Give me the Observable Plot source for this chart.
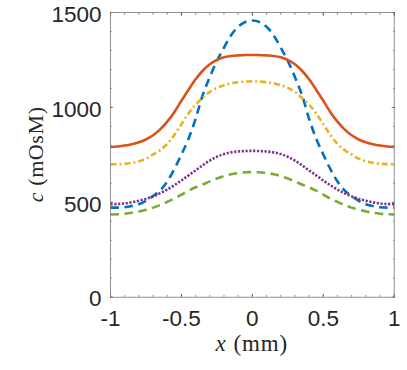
<!DOCTYPE html>
<html>
<head>
<meta charset="utf-8">
<script src="https://cdn.jsdelivr.net/npm/d3@7"></script>
<script src="https://cdn.jsdelivr.net/npm/@observablehq/plot@0.6"></script>
<style>
  html, body { margin: 0; padding: 0; background: #fff; }
  #chart { width: 407px; height: 370px; }
</style>
</head>
<body>
<div id="chart"></div>
<script>
// x positions (mm)
const xs = [-1, -0.95, -0.9, -0.85, -0.8, -0.75, -0.7, -0.65, -0.6, -0.55, -0.5, -0.45, -0.4, -0.35, -0.3, -0.25, -0.2, -0.15, -0.1, -0.05, 0,
            0.05, 0.1, 0.15, 0.2, 0.25, 0.3, 0.35, 0.4, 0.45, 0.5, 0.55, 0.6, 0.65, 0.7, 0.75, 0.8, 0.85, 0.9, 0.95, 1];

// series (mOsM)
const blueVals = [472, 472, 474, 480, 490, 508, 533, 563, 610, 675, 752, 835, 940, 1065, 1160, 1245, 1315, 1380, 1425, 1450, 1458,
                  1450, 1425, 1380, 1315, 1245, 1160, 1065, 940, 835, 752, 675, 610, 563, 533, 508, 490, 480, 474, 472, 472];
const redVals = [791, 794, 799, 806, 816, 831, 853, 884, 925, 975, 1035, 1093, 1148, 1193, 1227, 1250, 1264, 1271, 1274, 1276, 1276,
                 1276, 1274, 1271, 1264, 1250, 1227, 1193, 1148, 1093, 1035, 975, 925, 884, 853, 831, 816, 806, 799, 794, 791];
const yellowVals = [700, 701, 703, 708, 716, 730, 752, 775, 808, 855, 912, 968, 1015, 1050, 1082, 1103, 1117, 1127, 1133, 1136, 1137,
                    1136, 1133, 1127, 1117, 1103, 1082, 1050, 1015, 968, 912, 855, 808, 775, 752, 730, 716, 708, 703, 701, 700];
const purpleVals = [490, 491, 494, 500, 508, 518, 531, 548, 567, 590, 615, 642, 668, 695, 720, 740, 754, 763, 768, 770, 771,
                    770, 768, 763, 754, 740, 720, 695, 668, 642, 615, 590, 567, 548, 531, 518, 508, 500, 494, 491, 490];
const greenVals = [436, 437, 440, 445, 452, 461, 472, 486, 502, 520, 540, 561, 579, 594, 610, 625, 638, 648, 654, 658, 659,
                   658, 654, 648, 638, 625, 610, 594, 579, 561, 540, 520, 502, 486, 472, 461, 452, 445, 440, 437, 436];

const xTicks = [-1, -0.5, 0, 0.5, 1];
const xTickLabels = ["-1", "-0.5", "0", "0.5", "1"];
const yTicks = [0, 500, 1000, 1500];
const xMinor = d3.range(-10, 11).map(i => i / 10);
const yMinor = d3.range(0, 16).map(i => i * 100);

const series = [
  {name: "s1", vals: blueVals, color: "#0072BD", dash: "8.5,5.5"},
  {name: "s2", vals: redVals, color: "#D95319", dash: null},
  {name: "s3", vals: yellowVals, color: "#EDB120", dash: "6,3,2,3"},
  {name: "s4", vals: purpleVals, color: "#7E2F8E", dash: "2.2,1.6"},
  {name: "s5", vals: greenVals, color: "#77AC30", dash: "8.5,5.5"}
];

const W = 407, H = 370;
const mL = 110, mR = 13.3, mT = 12, mB = 73.3;
const font = "'Liberation Sans', Arial, Helvetica, sans-serif";
const ink = "#262626";

const lineMarks = series.map(s => Plot.line(xs.map((x, i) => ({x, y: s.vals[i]})), {
  x: "x", y: "y", stroke: s.color, strokeWidth: 2.6,
  strokeDasharray: s.dash ?? undefined, strokeLinecap: "butt", strokeLinejoin: "round",
  curve: "catmull-rom"
}));

const chart = Plot.plot({
  width: W, height: H,
  marginLeft: mL, marginRight: mR, marginTop: mT, marginBottom: mB,
  style: {fontFamily: font, background: "#fff"},
  x: {domain: [-1, 1]},
  y: {domain: [0, 1500]},
  marks: [
    // minor ticks
    Plot.axisX(xMinor, {anchor: "bottom", tickSize: -1.6, text: null, stroke: ink, strokeWidth: 0.6, label: null}),
    Plot.axisX(xMinor, {anchor: "top", tickSize: -1.6, text: null, stroke: ink, strokeWidth: 0.6, label: null}),
    Plot.axisY(yMinor, {anchor: "left", tickSize: -1.6, text: null, stroke: ink, strokeWidth: 0.6, label: null}),
    Plot.axisY(yMinor, {anchor: "right", tickSize: -1.6, text: null, stroke: ink, strokeWidth: 0.6, label: null}),
    // major ticks
    Plot.axisX(xTicks, {anchor: "bottom", tickSize: -3, text: null, stroke: ink, strokeWidth: 0.6, label: null}),
    Plot.axisX(xTicks, {anchor: "top", tickSize: -3, text: null, stroke: ink, strokeWidth: 0.6, label: null}),
    Plot.axisY(yTicks, {anchor: "left", tickSize: -3, text: null, stroke: ink, strokeWidth: 0.6, label: null}),
    Plot.axisY(yTicks, {anchor: "right", tickSize: -3, text: null, stroke: ink, strokeWidth: 0.6, label: null}),
    // tick labels
    Plot.axisX(xTicks, {anchor: "bottom", tickSize: 0, tickPadding: 13, fontSize: 22.5, fill: ink,
      tickFormat: (d, i) => xTickLabels[i], label: null}),
    Plot.axisY(yTicks, {anchor: "left", tickSize: 0, tickPadding: 9, fontSize: 22.5, fill: ink,
      tickFormat: d => String(d), label: null, dy: 2}),
    ...lineMarks,
    Plot.frame({stroke: "#777", strokeWidth: 0.8})
  ]
});

document.getElementById("chart").appendChild(chart);

// axis labels with LaTeX-like styling (italic variable + upright unit)
const svg = d3.select(chart);
const serif = "'Liberation Serif', 'Times New Roman', serif";

function addLabel(transform, size, spacing, v, unit) {
  const g = svg.append("g").attr("transform", transform);
  const t = g.append("text")
    .attr("text-anchor", "start")
    .attr("font-family", serif)
    .attr("font-size", size)
    .attr("letter-spacing", spacing)
    .attr("fill", ink);
  t.append("tspan").attr("font-style", "italic").text(v);
  t.append("tspan").text("\u00a0(" + unit + ")");
  const len = t.node().getComputedTextLength();
  t.attr("x", -len / 2);
}

addLabel(`translate(${mL + (W - mL - mR) / 2},351)`, 23, 0.9, "x", "mm");
addLabel(`translate(43,${mT + (H - mT - mB) / 2}) rotate(-90)`, 22, 0.6, "c", "mOsM");
</script>
</body>
</html>
